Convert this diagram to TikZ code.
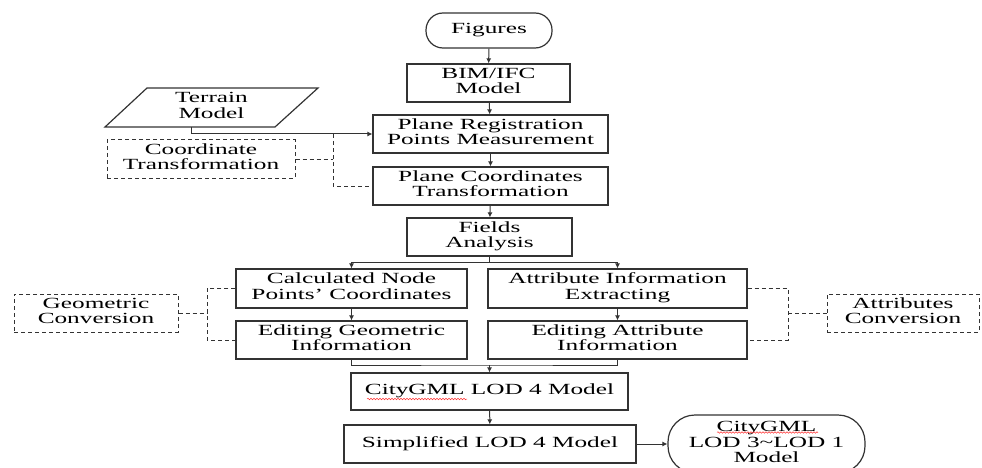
\documentclass[tikz,border=0pt]{standalone}
\usepackage{fontspec}
\usepackage{graphicx}
\setmainfont{Liberation Serif}
\usetikzlibrary{arrows.meta,decorations.pathmorphing,calc}
\definecolor{ln}{HTML}{333333}
\newcommand\wtx[1]{\scalebox{1.63}[1]{\begin{tabular}{@{}c@{}}#1\end{tabular}}}
\begin{document}
\begin{tikzpicture}[x=1pt,y=-1pt,
  font=\fontsize{15.5}{15.5}\selectfont,
  box/.style={draw=ln,line width=1.2pt,inner sep=0pt,align=center,text=black},
  dbox/.style={box,line width=1pt,dash pattern=on 4pt off 3pt},
  conn/.style={draw=ln,line width=1pt},
  arr/.style={conn,-{Latex[length=5pt,width=5pt]}},
  dconn/.style={conn,dash pattern=on 4pt off 3pt},
  squig/.style={draw=red!80,line width=0.5pt,decorate,decoration={snake,segment length=3pt,amplitude=0.8pt}}
]
\useasboundingbox (0,0) rectangle (982,468);

% main column
\node[box,rounded corners=17pt,minimum width=126pt,minimum height=35pt] (fig) at (489,30.5) {\wtx{Figures}};
\node[box,minimum width=163pt,minimum height=38pt] (bim) at (488.5,83) {\wtx{BIM/IFC\\Model}};
\node[box,minimum width=235pt,minimum height=38pt] (reg) at (490.5,134) {\wtx{Plane Registration\\Points Measurement}};
\node[box,minimum width=235pt,minimum height=38pt] (pct) at (490.5,186) {\wtx{Plane Coordinates\\Transformation}};
\node[box,minimum width=165pt,minimum height=38pt] (fld) at (489.5,237) {\wtx{Fields\\Analysis}};
\node[box,minimum width=231pt,minimum height=39pt] (calc) at (351.5,288.5) {\wtx{Calculated Node\\Points’ Coordinates}};
\node[box,minimum width=259pt,minimum height=39pt] (attr) at (617.5,288.5) {\wtx{Attribute Information\\Extracting}};
\node[box,minimum width=231pt,minimum height=38pt] (egeo) at (351.5,340) {\wtx{Editing Geometric\\Information}};
\node[box,minimum width=259pt,minimum height=38pt] (eatt) at (617.5,340) {\wtx{Editing Attribute\\Information}};
\node[box,minimum width=277pt,minimum height=37pt] (lod4) at (489.5,391.5) {\wtx{CityGML LOD 4 Model}};
\node[box,minimum width=292pt,minimum height=38pt] (simp) at (490,444) {\wtx{Simplified LOD 4 Model}};
\node[box,rounded corners=27pt,minimum width=197pt,minimum height=58pt] (lod31) at (766.5,444) {\wtx{CityGML\\LOD 3\textasciitilde LOD 1\\Model}};

% terrain parallelogram
\draw[draw=ln,line width=1.2pt] (147,88) -- (318,88) -- (275,127) -- (105,127) -- cycle;
\node[inner sep=0pt,align=center,minimum width=170pt,minimum height=39pt] (ter) at (211.5,107.5) {\wtx{Terrain\\Model}};
\coordinate (tb) at (191,127);

% dashed side boxes
\node[dbox,minimum width=188pt,minimum height=38pt] (coord) at (201,159) {\wtx{Coordinate\\Transformation}};
\node[dbox,minimum width=164pt,minimum height=38pt] (geoc) at (96,313) {\wtx{Geometric\\Conversion}};
\node[dbox,minimum width=152pt,minimum height=38pt] (attc) at (903,313) {\wtx{Attributes\\Conversion}};

% arrows main column
\draw[arr] (fig) -- (bim);
\draw[arr] (bim) -- (reg);
\draw[arr] (reg) -- (pct);
\draw[arr] (pct) -- (fld);
\coordinate (sp) at (489.5,262);
\draw[conn] (fld.south) -- (sp);
\draw[arr] (sp) -| (calc.north);
\draw[arr] (sp) -| (attr.north);
\draw[arr] (calc) -- (egeo);
\draw[arr] (attr) -- (eatt);
\coordinate (mg) at (489.5,365);
\draw[conn] (egeo.south) |- (mg) -| (eatt.south);
\draw[arr] (mg) -- (lod4.north);
\draw[arr] (lod4) -- (simp);
\draw[arr] (simp) -- (lod31);

% terrain arrow
\draw[arr] (tb) |- (reg.west);

% dashed connectors
\coordinate (cj) at (333,159);
\draw[dconn] (coord.east) -- (cj);
\draw[dconn] (reg.west -| cj) -- (pct.west -| cj) -- (pct.west);
\coordinate (gj) at (207,313);
\draw[dconn] (geoc.east) -- (gj);
\draw[dconn] (calc.west) -- (calc.west -| gj) -- (egeo.west -| gj) -- (egeo.west);
\coordinate (aj) at (788,313);
\draw[dconn] (attc.west) -- (aj);
\draw[dconn] (attr.east) -- (attr.east -| aj) -- (eatt.east -| aj) -- (eatt.east);

% spell-check squiggles
\draw[squig] (367,399) -- (467,399);
\draw[squig] (717,432.5) -- (818,432.5);
\end{tikzpicture}
\end{document}
